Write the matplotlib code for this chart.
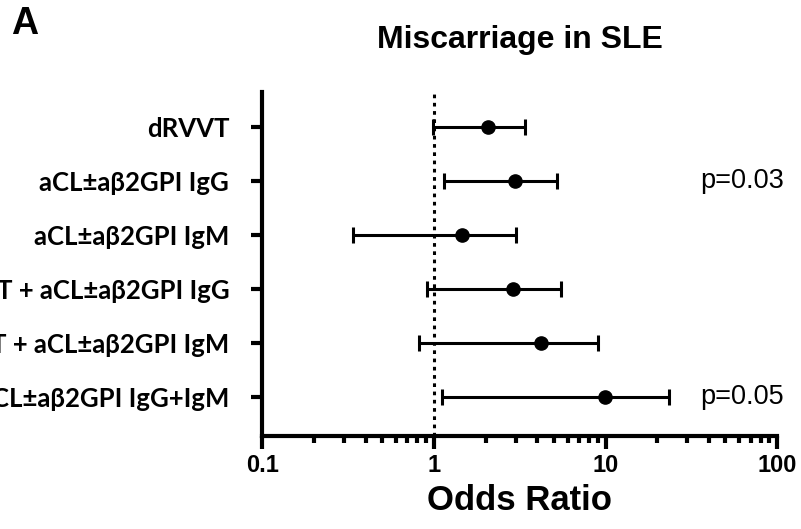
import matplotlib
matplotlib.use('Agg')
import matplotlib.pyplot as plt
import matplotlib.transforms as mtransforms
from matplotlib.ticker import LogLocator, NullFormatter
import numpy as np

# odds ratios with 95% CI, top row first
labels = ['dRVVT',
          'aCL±aβ2GPI IgG',
          'aCL±aβ2GPI IgM',
          'dRVVT + aCL±aβ2GPI IgG',
          'dRVVT + aCL±aβ2GPI IgM',
          'aCL±aβ2GPI IgG+IgM']
odds = [2.07, 2.95, 1.46, 2.89, 4.2, 9.9]
ci_low = [0.98, 1.15, 0.336, 0.907, 0.82, 1.11]
ci_high = [3.38, 5.21, 2.99, 5.5, 8.98, 23.4]
pvals = {1: 'p=0.03', 5: 'p=0.05'}

odds = np.array(odds)
err = [odds - np.array(ci_low), np.array(ci_high) - odds]
ypos = np.arange(len(labels))

fig = plt.figure(figsize=(8.01, 5.29), dpi=100)
ax = fig.add_axes([0.3277, 0.1758, 0.6425, 0.650])

# reference line at OR = 1
ax.axvline(1, color='black', linestyle=(0, (1.2, 1.5)), linewidth=2.2, zorder=1)
ax.errorbar(odds, ypos, xerr=err, fmt='o', color='black', markersize=9.5,
            elinewidth=2.2, capsize=5.6, capthick=2.2, zorder=3)

ax.set_xscale('log')
ax.set_xlim(0.1, 100)
ax.set_ylim(len(labels) - 1 + 0.72, -0.65)

ax.xaxis.set_minor_locator(LogLocator(base=10, subs=np.arange(2, 10), numticks=10))
ax.xaxis.set_minor_formatter(NullFormatter())
ax.set_xticks([0.1, 1, 10, 100])
ax.set_xticklabels(['0.1', '1', '10', '100'], fontfamily='Liberation Sans',
                   fontweight='bold', fontsize=17)

ax.set_yticks(ypos)
ax.set_yticklabels(labels, fontfamily='Lato', fontweight='bold', fontsize=18.5)

for side in ['top', 'right']:
    ax.spines[side].set_visible(False)
for side in ['left', 'bottom']:
    ax.spines[side].set_linewidth(3)

ax.tick_params(axis='x', which='major', length=9, width=3, pad=4)
ax.tick_params(axis='x', which='minor', length=5, width=3)
ax.tick_params(axis='y', which='major', length=8, width=3, pad=16)

ax.set_xlabel('Odds Ratio', fontfamily='Liberation Sans', fontweight='bold',
              fontsize=25, labelpad=5)

trans = mtransforms.blended_transform_factory(fig.transFigure, ax.transData)
for row, txt in pvals.items():
    ax.text(700 / 801, ypos[row], txt, transform=trans, fontfamily='Liberation Sans',
            fontsize=19.5, va='center', ha='left')

fig.text(520 / 801, 1 - 40 / 529, 'Miscarriage in SLE', fontfamily='Liberation Sans',
         fontweight='bold', fontsize=23, ha='center', va='center')
fig.text(25 / 801, 1 - 24 / 529, 'A', fontfamily='Liberation Sans',
         fontweight='bold', fontsize=27, ha='center', va='center')

fig.savefig('out.png', dpi=100)
